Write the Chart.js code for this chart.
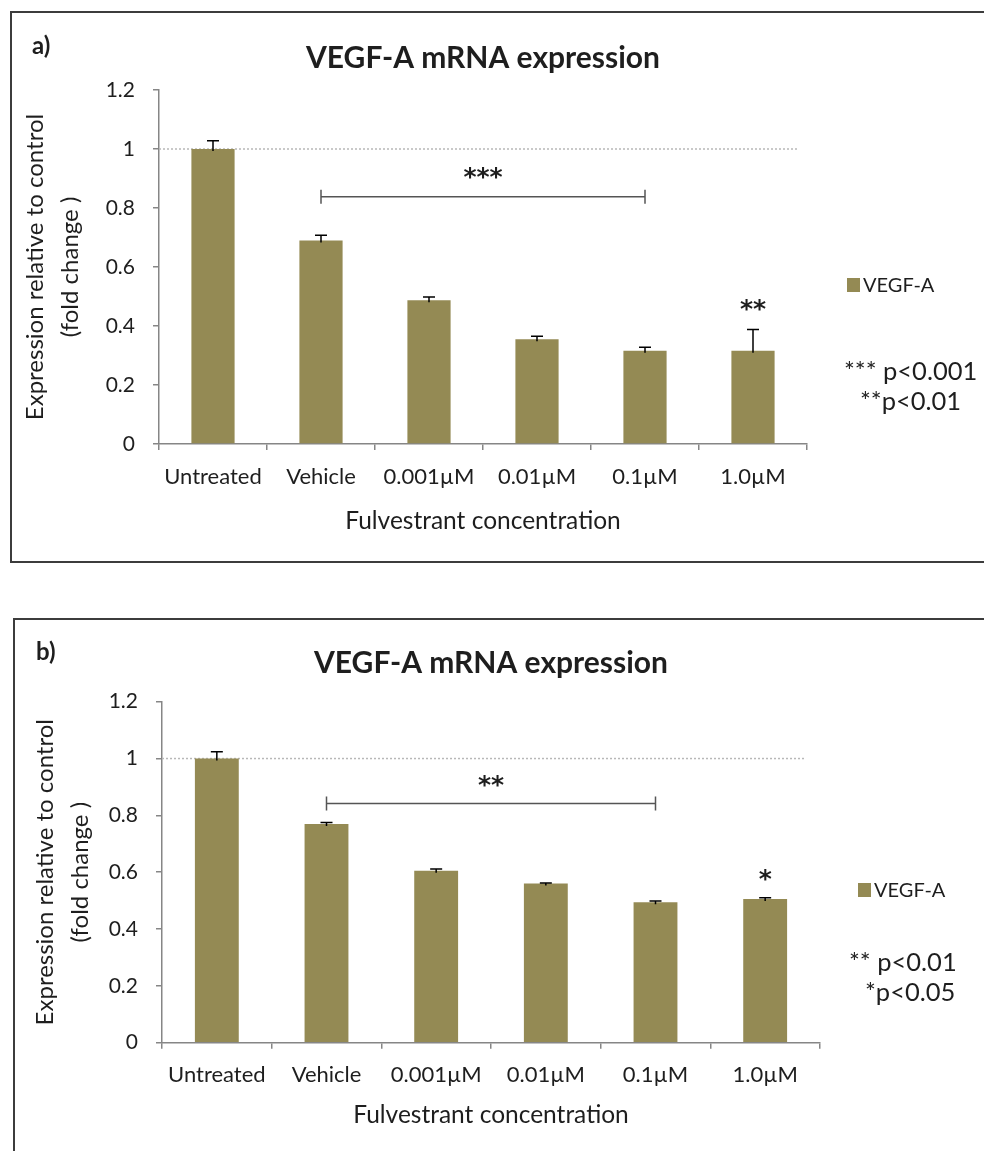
<!DOCTYPE html>
<html>
<head>
<meta charset="utf-8">
<script src="https://cdn.jsdelivr.net/npm/chart.js@4.4.1/dist/chart.umd.min.js"></script>
<style>
  html, body { margin: 0; padding: 0; background: #fff; }
  body { width: 984px; height: 1151px; position: relative; overflow: hidden; }
  .frame { position: absolute; border: 2px solid #3c3c3c; box-sizing: border-box; }
  #frameA { left: 10px; top: 11px; width: 990px; height: 552px; }
  #frameB { left: 13px; top: 618px; width: 990px; height: 560px; }
  canvas { position: absolute; left: 0; }
  #chartA { top: 0; width: 984px; height: 590px; }
  #chartB { top: 590px; width: 984px; height: 561px; }
</style>
</head>
<body>
<div class="frame" id="frameA"></div>
<div class="frame" id="frameB"></div>
<canvas id="chartA" width="984" height="590"></canvas>
<canvas id="chartB" width="984" height="561"></canvas>
<script>
const categories = ['Untreated', 'Vehicle', '0.001µM', '0.01µM', '0.1µM', '1.0µM'];
const seriesName = 'VEGF-A';

// panel a
const valuesA = [1.0, 0.69, 0.487, 0.355, 0.316, 0.316];
const errorsA = [0.028, 0.018, 0.011, 0.01, 0.012, 0.072];
const bracketA = { from: 1, to: 4, level: 0.838, label: '***' };
const starsA = [{ index: 5, level: 0.475, label: '**' }];
const notesA = ['*** p<0.001', '**p<0.01'];

// panel b
const valuesB = [1.0, 0.77, 0.605, 0.56, 0.494, 0.506];
const errorsB = [0.024, 0.005, 0.006, 0.002, 0.005, 0.004];
const bracketB = { from: 1, to: 4, level: 0.842, label: '**' };
const starsB = [{ index: 5, level: 0.594, label: '*' }];
const notesB = ['** p<0.01', '*p<0.05'];

const yTicks = [0, 0.2, 0.4, 0.6, 0.8, 1, 1.2];

const FONT = 'Lato';
const STAR_FONT = 'bold 25px "DejaVu Sans"';
const barColor = '#948a54';
const axisGray = '#868686';
const textColor = '#1e1e1e';

// draws error bars, reference line, bracket, stars, legend and notes
const annotate = {
  id: 'annotate',
  beforeDatasetsDraw(chart, args, opts) {
    const { ctx, chartArea } = chart;
    const y = chart.scales.y.getPixelForValue(1);
    ctx.save();
    ctx.strokeStyle = '#b8b8b8';
    ctx.lineWidth = 1.5;
    ctx.setLineDash([2, 2]);
    ctx.beginPath();
    ctx.moveTo(chartArea.left, y);
    ctx.lineTo(opts.refEnd, y);
    ctx.stroke();
    ctx.restore();
  },
  afterDatasetsDraw(chart, args, opts) {
    const { ctx } = chart;
    const yScale = chart.scales.y;
    const bars = chart.getDatasetMeta(0).data;
    const values = chart.data.datasets[0].data;

    ctx.save();
    ctx.strokeStyle = '#000';
    ctx.lineWidth = 1.5;
    opts.errors.forEach((err, i) => {
      const bar = bars[i];
      const top = yScale.getPixelForValue(values[i] + err);
      ctx.beginPath();
      ctx.moveTo(bar.x, bar.y + 2);
      ctx.lineTo(bar.x, top);
      ctx.moveTo(bar.x - 6, top);
      ctx.lineTo(bar.x + 6, top);
      ctx.stroke();
    });

    // significance bracket
    const br = opts.bracket;
    const x1 = bars[br.from].x;
    const x2 = bars[br.to].x;
    const by = yScale.getPixelForValue(br.level);
    ctx.strokeStyle = '#555';
    ctx.beginPath();
    ctx.moveTo(x1, by - 7);
    ctx.lineTo(x1, by + 7);
    ctx.moveTo(x1, by);
    ctx.lineTo(x2, by);
    ctx.moveTo(x2, by - 7);
    ctx.lineTo(x2, by + 7);
    ctx.stroke();

    ctx.fillStyle = textColor;
    ctx.textAlign = 'center';
    ctx.textBaseline = 'middle';
    ctx.font = STAR_FONT;
    ctx.fillText(br.label, (x1 + x2) / 2, yScale.getPixelForValue(br.level + 0.085) + 7);
    opts.stars.forEach((s) => {
      ctx.fillText(s.label, bars[s.index].x, yScale.getPixelForValue(s.level) + 7);
    });

    // legend
    const [lx, ly] = opts.legendPos;
    ctx.fillStyle = barColor;
    ctx.fillRect(lx, ly, 13, 14);
    ctx.fillStyle = textColor;
    ctx.textAlign = 'left';
    ctx.font = `20px ${FONT}`;
    ctx.fillText(chart.data.datasets[0].label, lx + 16, ly + 8);

    // p-value notes
    ctx.font = `25.5px ${FONT}`;
    opts.notes.forEach((t, i) => {
      const [nx, ny] = opts.notesPos[i];
      ctx.fillText(t, nx, ny);
    });

    // panel tag
    ctx.font = `bold 24px ${FONT}`;
    ctx.fillText(opts.tag, opts.tagPos[0], opts.tagPos[1]);
    ctx.restore();
  }
};

function buildChart(canvas, values, errors, panel) {
  return new Chart(canvas, {
    type: 'bar',
    data: {
      labels: categories,
      datasets: [{
        label: seriesName,
        data: values,
        backgroundColor: barColor,
        borderWidth: 0,
        barPercentage: 0.4,
        categoryPercentage: 1
      }]
    },
    options: {
      responsive: false,
      animation: false,
      layout: { padding: panel.padding },
      plugins: {
        legend: { display: false },
        tooltip: { enabled: false },
        title: {
          display: true,
          fullSize: false,
          text: 'VEGF-A mRNA expression',
          color: textColor,
          font: { family: FONT, size: 30, weight: 'bold' },
          padding: panel.titlePad
        },
        annotate: {
          errors,
          bracket: panel.bracket,
          stars: panel.stars,
          notes: panel.notes,
          notesPos: panel.notesPos,
          legendPos: panel.legendPos,
          refEnd: panel.refEnd,
          tag: panel.tag,
          tagPos: panel.tagPos
        }
      },
      scales: {
        x: {
          grid: { offset: true, drawOnChartArea: false, tickLength: 6, color: axisGray, lineWidth: 1.5 },
          border: { color: axisGray, width: 1.5 },
          ticks: { color: textColor, font: { family: FONT, size: 22 }, padding: panel.xTickPad, maxRotation: 0 },
          title: {
            display: true,
            text: 'Fulvestrant concentration',
            color: textColor,
            font: { family: FONT, size: 24.5 },
            padding: { top: 0, bottom: panel.xTitlePad }
          },
          afterFit: (s) => { s.height = 100; }
        },
        y: {
          min: 0,
          max: 1.2,
          afterBuildTicks: (s) => { s.ticks = yTicks.map((v) => ({ value: v })); },
          grid: { drawOnChartArea: false, tickLength: 6, color: axisGray, lineWidth: 1.5 },
          border: { color: axisGray, width: 1.5 },
          ticks: {
            color: textColor,
            font: { family: FONT, size: 21 },
            padding: 18,
            callback: (v) => String(Number(v.toFixed(1)))
          },
          title: {
            display: true,
            text: ['Expression relative to control', '(fold change )'],
            color: textColor,
            font: { family: FONT, size: 24, lineHeight: '35px' },
            padding: { top: panel.yTitlePad }
          },
          afterFit: (s) => { s.width = 149; }
        }
      }
    },
    plugins: [annotate]
  });
}

buildChart(document.getElementById('chartA'), valuesA, errorsA, {
  padding: { left: 10, right: 177, top: 30, bottom: 46 },
  titlePad: { top: 10, bottom: 14 },
  xTickPad: 13.8,
  xTitlePad: 8.3,
  yTitlePad: 7.5,
  bracket: bracketA,
  stars: starsA,
  notes: notesA,
  notesPos: [[844, 372], [860, 402]],
  legendPos: [847, 278],
  refEnd: 797,
  tag: 'a)',
  tagPos: [32, 46]
});

buildChart(document.getElementById('chartB'), valuesB, errorsB, {
  padding: { left: 13, right: 164, top: 45, bottom: 8.3 },
  titlePad: { top: 10, bottom: 20.7 },
  xTickPad: 13.1,
  xTitlePad: 13,
  yTitlePad: 14.5,
  bracket: bracketB,
  stars: starsB,
  notes: notesB,
  notesPos: [[849, 372.7], [865, 403]],
  legendPos: [858, 293],
  refEnd: 805,
  tag: 'b)',
  tagPos: [36, 62]
});
</script>
</body>
</html>
